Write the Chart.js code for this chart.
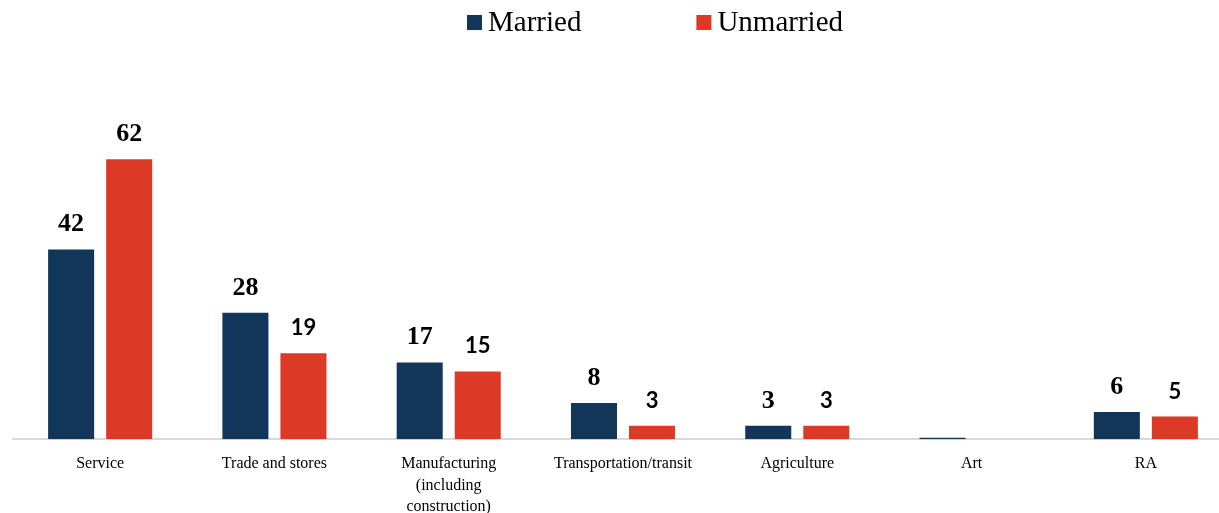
<!DOCTYPE html>
<html>
<head>
<meta charset="utf-8">
<script src="https://cdn.jsdelivr.net/npm/chart.js@4/dist/chart.umd.min.js"></script>
<style>
  html, body { margin: 0; padding: 0; background: #fff; overflow: hidden; }
  #wrap { position: relative; width: 1240px; height: 524px; }
</style>
</head>
<body>
<div id="wrap"><canvas id="sectorChart"></canvas></div>
<script>
const categories = ['Service', 'Trade and stores', ['Manufacturing', '(including', 'construction)'], 'Transportation/transit', 'Agriculture', 'Art', 'RA'];
const married = [42, 28, 17, 8, 3, 0.3, 6];
const unmarried = [62, 19, 15, 3, 3, 0, 5];
const seriesNames = ['Married', 'Unmarried'];
const seriesColors = ['#12355A', '#DC3A26'];
// which value labels are set in the serif face (the rest use sans)
const serifLabels = [
  [true, true, true, true, true, true, true],
  [true, false, false, false, false, false, false]
];

const SERIF = '"Liberation Serif", "Times New Roman", serif';
const SANS = 'Lato, "Liberation Sans", sans-serif';

// value labels above each bar
const valueLabels = {
  id: 'valueLabels',
  afterDatasetsDraw(chart) {
    const ctx = chart.ctx;
    ctx.save();
    ctx.textAlign = 'center';
    ctx.textBaseline = 'alphabetic';
    ctx.fillStyle = '#000';
    chart.data.datasets.forEach((ds, di) => {
      const meta = chart.getDatasetMeta(di);
      meta.data.forEach((bar, i) => {
        const v = ds.data[i];
        if (v == null || v < 1) return;
        const serif = serifLabels[di][i];
        ctx.font = serif ? 'bold 26px ' + SERIF : 'bold 22px ' + SANS;
        ctx.fillText(String(v), bar.x, bar.y - 18);
      });
    });
    ctx.restore();
  }
};

// legend row: square swatch followed closely by the series name
const topLegend = {
  id: 'topLegend',
  afterDraw(chart) {
    const ctx = chart.ctx;
    ctx.save();
    ctx.font = '29px ' + SERIF;
    ctx.textBaseline = 'alphabetic';
    const box = 15, gap = 6, spacing = 115;
    const widths = seriesNames.map(n => box + gap + ctx.measureText(n).width);
    const total = widths.reduce((a, b) => a + b, 0) + spacing;
    let x = 655 - total / 2;
    seriesNames.forEach((name, i) => {
      ctx.fillStyle = seriesColors[i];
      ctx.fillRect(x, 15, box, box);
      ctx.fillStyle = '#000';
      ctx.fillText(name, x + box + gap, 31);
      x += widths[i] + spacing;
    });
    ctx.restore();
  }
};

new Chart(document.getElementById('sectorChart'), {
  type: 'bar',
  data: {
    labels: categories,
    datasets: [
      { label: seriesNames[0], data: married, backgroundColor: seriesColors[0] },
      { label: seriesNames[1], data: unmarried, backgroundColor: seriesColors[1] }
    ]
  },
  options: {
    responsive: true,
    maintainAspectRatio: false,
    animation: false,
    layout: { padding: { top: 123, left: 13, right: 7, bottom: 0 } },
    datasets: { bar: { categoryPercentage: 0.666, barPercentage: 0.793 } },
    plugins: { legend: { display: false }, tooltip: { enabled: false } },
    scales: {
      x: {
        grid: { display: false },
        border: { display: true, color: '#d9d9d9', width: 2 },
        ticks: {
          color: '#000',
          padding: 6,
          maxRotation: 0,
          autoSkip: false,
          font: { family: SERIF, size: 16, lineHeight: 1.35 }
        }
      },
      y: { display: false, min: 0, max: 70 }
    }
  },
  plugins: [valueLabels, topLegend]
});
</script>
</body>
</html>
